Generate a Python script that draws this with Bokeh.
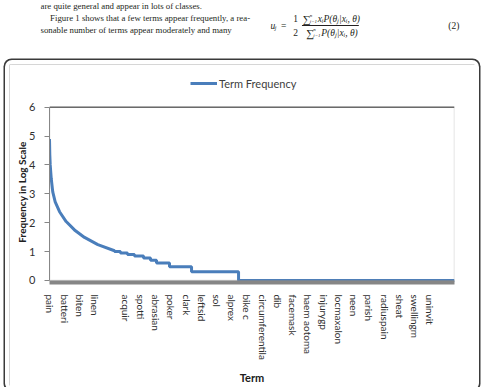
import numpy as np
from bokeh.plotting import figure
from bokeh.layouts import column
from bokeh.models import Range1d, FixedTicker, Label, BoxAnnotation, Span
from bokeh.embed import file_html
from bokeh.resources import INLINE

# ---- data ----
# head of the ranked term list: (rank, log10 frequency)
head_rank = [1, 4, 8, 18, 33, 57, 100, 165, 247, 346, 477, 641]
head_log = [4.90, 4.35, 4.00, 3.53, 3.07, 2.72, 2.38, 2.04, 1.75, 1.49, 1.24, 1.03]
# tail: integer frequency levels and the rank where each level ends
tail_freq = [10, 9, 8, 7, 6, 5, 4, 3, 2, 1]
tail_end_rank = [700, 769, 838, 927, 996, 1055, 1183, 1400, 1863, 3990]
# category-axis labels (one every label_step terms)
term_labels = ["pain", "batteri", "biten", "linen", "", "acquir", "spotti",
               "abrasian", "poker", "clark", "leftsid", "sol", "alprex",
               "bike c", "circumferentila", "dib", "facemask", "haem aotoma",
               "injurygp", "locmaxalon", "neen", "parish", "radiuspain",
               "sheat", "swellingm", "uninvit"]
label_step = 150
n_terms = 3990
y_ticks = [0, 1, 2, 3, 4, 5, 6]
y_max = 6

# build the ranked series
xs = list(head_rank)
ys = list(head_log)
start = head_rank[-1]
for f, end in zip(tail_freq, tail_end_rank):
    lv = float(np.log10(f))
    xs += [start, end]
    ys += [lv, lv]
    start = end

tick_pos = [1 + label_step * i for i in range(len(term_labels))]

# ---------------- page text above the chart ----------------
pt = figure(width=486, height=60, x_range=Range1d(0, 486), y_range=Range1d(60, 0),
            output_backend="svg", toolbar_location=None, min_border=0,
            x_axis_type=None, y_axis_type=None)
pt.outline_line_color = None
pt.xgrid.visible = False
pt.ygrid.visible = False
pt.background_fill_color = "white"
pt.border_fill_color = "white"


def lab(text, px, py, size="8.8px", font="Liberation Serif", style="normal", align="left"):
    pt.add_layout(Label(x=px, y=py, text=text, text_font=font, text_font_size=size,
                        text_font_style=style, text_color="#231f20",
                        text_baseline="middle", text_align=align))


lab("are quite general and appear in lots of classes.", 0, 5)
lab("Figure 1 shows that a few terms appear frequently, a rea-", 11, 17)
lab("sonable number of terms appear moderately and many", 0, 29)
# equation (2)
lab("u", 263, 25, size="9.5px", style="italic")
lab("j", 268, 27, size="6px", style="italic")
lab("=", 275, 25, size="9.5px")
lab("1", 289, 18, size="9.5px")
lab("2", 289, 32, size="9.5px")
lab("\u2211", 300, 18, size="11px")
lab("n", 308, 15, size="5px", style="italic")
lab("i=1", 308, 21, size="5px", style="italic")
lab("x\u1d62P(\u03b8\u2c7c|x\u1d62, \u03b8)", 317, 18, size="9.5px", style="italic")
lab("\u2211", 304, 32, size="11px")
lab("n", 312, 29, size="5px", style="italic")
lab("i=1", 312, 35, size="5px", style="italic")
lab("P(\u03b8\u2c7c|x\u1d62, \u03b8)", 321, 32, size="9.5px", style="italic")
lab("(2)", 479, 25, size="9.5px", align="right")
pt.add_layout(BoxAnnotation(left=299, right=364, top=24.6, bottom=25.4,
                            fill_color="#231f20", fill_alpha=1, line_color=None))

# ---------------- chart ----------------
p = figure(width=466, height=322, x_range=Range1d(1, n_terms), y_range=Range1d(-0.07, 7.2),
           output_backend="svg", toolbar_location=None,
           min_border_left=40, min_border_right=21, min_border_top=8, min_border_bottom=102,
           margin=(4, 0, 0, 9),
           styles={"outline": "2px solid #c8c8c8", "outline-offset": "-2px",
                   "box-shadow": "0 0 0 4px #ffffff, 0 0 0 5.5px #3a3a3a",
                   "border-radius": "3px"})
p.background_fill_color = "white"
p.border_fill_color = "white"
p.outline_line_color = None
p.xgrid.visible = False
p.ygrid.visible = False

# plot-area border (up to the top of the value axis)
p.add_layout(BoxAnnotation(left=1, right=n_terms, bottom=0, top=y_max, fill_alpha=0,
                           line_color="#8a8a8a", line_width=1.5))
p.add_layout(Span(location=y_max, dimension="width", line_color="#303030", line_width=1))

p.line(xs, ys, line_color="#4a7ebb", line_width=3, legend_label="Term Frequency")

leg = p.legend[0]
leg.location = (141, 192)
leg.border_line_color = None
leg.background_fill_alpha = 0
leg.padding = 0
leg.margin = 0
leg.glyph_width = 27
leg.glyph_height = 14
leg.label_height = 14
leg.label_standoff = 2
leg.label_text_font = "Lato"
leg.label_text_font_size = "11px"
leg.label_text_color = "#404040"

xa = p.xaxis[0]
xa.ticker = FixedTicker(ticks=tick_pos)
xa.major_label_overrides = {t: l for t, l in zip(tick_pos, term_labels)}
xa.major_label_orientation = "vertical"
xa.major_tick_line_color = None
xa.minor_tick_line_color = None
xa.axis_line_color = "#868686"
xa.axis_line_width = 4
xa.major_label_standoff = 6
xa.major_label_text_font = "Lato"
xa.major_label_text_font_size = "10px"
xa.major_label_text_color = "#303030"
xa.axis_label = "Term"
xa.axis_label_text_font = "Lato"
xa.axis_label_text_font_style = "bold"
xa.axis_label_text_font_size = "11px"
xa.axis_label_text_color = "#202020"
xa.axis_label_standoff = 8

ya = p.yaxis[0]
ya.ticker = FixedTicker(ticks=y_ticks)
ya.bounds = (0, y_max)
ya.minor_tick_line_color = None
ya.axis_line_color = "#868686"
ya.major_tick_line_color = "#868686"
ya.major_tick_in = 0
ya.major_tick_out = 5
ya.major_label_standoff = 9
ya.major_label_text_font = "Lato"
ya.major_label_text_font_size = "11px"
ya.major_label_text_color = "#303030"
# trailing no-break spaces keep the title centred on the 0-6 part of the axis
ya.axis_label = "Frequency in Log Scale" + "\u00a0" * 12
ya.axis_label_text_font = "Lato"
ya.axis_label_text_font_style = "bold"
ya.axis_label_text_font_size = "10px"
ya.axis_label_text_color = "#202020"
ya.axis_label_standoff = -2

layout = column(pt, p, spacing=0)
open("out.html", "w").write(file_html(layout, INLINE))
